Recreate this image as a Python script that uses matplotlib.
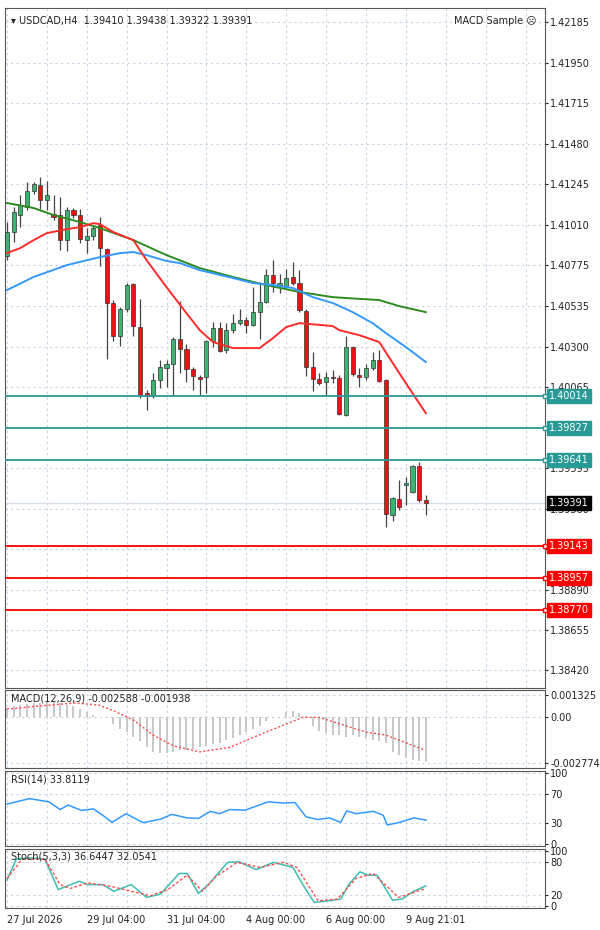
import matplotlib
matplotlib.use("Agg")
import matplotlib.pyplot as plt
import matplotlib.transforms as mtransforms
import numpy as np

# H4 candles, USDCAD
opens = [1.40826, 1.40969, 1.41065, 1.41113, 1.41204, 1.41243, 1.41151, 1.41075, 1.41065, 1.40922,
         1.41098, 1.41065, 1.40922, 1.40945, 1.41008, 1.40868, 1.40557, 1.40362, 1.40519, 1.40664,
         1.40413, 1.40031, 1.40012, 1.40108, 1.40175, 1.40199, 1.40347, 1.40289, 1.40169, 1.40127,
         1.40126, 1.40334, 1.40410, 1.40283, 1.40397, 1.40439, 1.40458, 1.40429, 1.40500, 1.40563,
         1.40716, 1.40661, 1.40649, 1.40707, 1.40670, 1.40509, 1.40184, 1.40112, 1.40098, 1.40127,
         1.40121, 1.39907, 1.40302, 1.40136, 1.40123, 1.40175, 1.40226, 1.40106, 1.39324, 1.39414,
         1.39496, 1.39458, 1.39607, 1.39410]
highs = [1.41027, 1.41113, 1.41180, 1.41256, 1.41256, 1.41285, 1.41262, 1.41180, 1.41170, 1.41113,
         1.41109, 1.41103, 1.40989, 1.41008, 1.41055, 1.40877, 1.40572, 1.40534, 1.40671, 1.40671,
         1.40576, 1.40050, 1.40146, 1.40222, 1.40222, 1.40356, 1.40566, 1.40318, 1.40184, 1.40136,
         1.40340, 1.40445, 1.40445, 1.40436, 1.40493, 1.40521, 1.40473, 1.40649, 1.40678, 1.40755,
         1.40802, 1.40726, 1.40755, 1.40793, 1.40745, 1.40518, 1.40270, 1.40146, 1.40155, 1.40165,
         1.40136, 1.40365, 1.40308, 1.40175, 1.40203, 1.40270, 1.40284, 1.40111, 1.39429, 1.39525,
         1.39543, 1.39611, 1.39630, 1.39438]
lows = [1.40807, 1.40912, 1.40998, 1.41094, 1.41189, 1.41103, 1.41094, 1.41036, 1.40865, 1.40855,
        1.41046, 1.40903, 1.40846, 1.40922, 1.40769, 1.40228, 1.40333, 1.40304, 1.40505, 1.40362,
        1.40004, 1.39936, 1.40003, 1.40060, 1.40069, 1.40022, 1.40146, 1.40098, 1.40050, 1.40022,
        1.40034, 1.40301, 1.40273, 1.40264, 1.40378, 1.40426, 1.40378, 1.40424, 1.40344, 1.40554,
        1.40621, 1.40611, 1.40640, 1.40659, 1.40504, 1.40131, 1.40041, 1.40079, 1.40022, 1.40089,
        1.39907, 1.39897, 1.40131, 1.40069, 1.40108, 1.40165, 1.40098, 1.39252, 1.39286, 1.39353,
        1.39381, 1.39449, 1.39401, 1.39322]
closes = [1.40969, 1.41084, 1.41122, 1.41208, 1.41247, 1.41151, 1.41180, 1.41055, 1.40922, 1.41098,
          1.41065, 1.40926, 1.40945, 1.40989, 1.40874, 1.40553, 1.40362, 1.40519, 1.40658, 1.40419,
          1.40022, 1.40016, 1.40108, 1.40184, 1.40199, 1.40347, 1.40289, 1.40169, 1.40131, 1.40115,
          1.40334, 1.40410, 1.40279, 1.40397, 1.40439, 1.40458, 1.40430, 1.40500, 1.40563, 1.40716,
          1.40669, 1.40672, 1.40703, 1.40669, 1.40516, 1.40184, 1.40112, 1.40092, 1.40127, 1.40121,
          1.39911, 1.40298, 1.40140, 1.40123, 1.40175, 1.40226, 1.40104, 1.39328, 1.39420, 1.39368,
          1.39511, 1.39607, 1.39410, 1.39391]

# moving averages (bar index, price)
ma_fast_idx = [0, 2, 4, 6, 9, 11, 13, 14, 16, 19, 21, 24, 27, 29, 31, 34, 38, 40, 42, 44, 49, 50, 53, 56, 59, 61, 63]
ma_fast = [1.40845, 1.40874, 1.40920, 1.40961, 1.40984, 1.40996, 1.41019, 1.41013, 1.40967, 1.40920,
           1.40804, 1.40647, 1.40496, 1.40397, 1.40328, 1.40293, 1.40293, 1.40351, 1.40415, 1.40438,
           1.40421, 1.40397, 1.40368, 1.40328, 1.40148, 1.40031, 1.39915]
ma_mid_idx = [0, 4, 9, 14, 17, 19, 21, 24, 26, 29, 34, 37, 40, 43, 46, 49, 52, 55, 57, 60, 63]
ma_mid = [1.40630, 1.40706, 1.40775, 1.40822, 1.40845, 1.40851, 1.40833, 1.40799, 1.40787, 1.40746,
          1.40700, 1.40671, 1.40659, 1.40642, 1.40589, 1.40555, 1.40502, 1.40438, 1.40380, 1.40299, 1.40212]
ma_slow_idx = [0, 4, 7, 11, 14, 19, 24, 29, 34, 39, 44, 49, 51, 56, 59, 63]
ma_slow = [1.41136, 1.41107, 1.41066, 1.41025, 1.40990, 1.40921, 1.40833, 1.40758, 1.40706, 1.40659,
           1.40619, 1.40589, 1.40584, 1.40572, 1.40537, 1.40502]

teal_levels = [1.40014, 1.39827, 1.39641]
red_levels = [1.39143, 1.38957, 1.38770]
last_price = 1.39391
price_ticks = [1.42185, 1.41950, 1.41715, 1.41480, 1.41245, 1.41010, 1.40775, 1.40535, 1.40300,
               1.40065, 1.39830, 1.39595, 1.39360, 1.39125, 1.38890, 1.38655, 1.38420]

macd_hist = [0.00058, 0.00067, 0.00076, 0.00080, 0.00086, 0.00086, 0.00091, 0.00091, 0.00086, 0.00076,
             0.00067, 0.00048, 0.00030, 0.00011, 0.00002, -0.00007, -0.00045, -0.00073, -0.00091, -0.00119,
             -0.00147, -0.00184, -0.00212, -0.00221, -0.00221, -0.00212, -0.00203, -0.00199, -0.00193, -0.00184,
             -0.00175, -0.00166, -0.00156, -0.00138, -0.00128, -0.00110, -0.00091, -0.00073, -0.00054, -0.00026,
             -0.00007, 0.00002, 0.00030, 0.00035, 0.00024, 0.00006, -0.00054, -0.00082, -0.00100, -0.00110,
             -0.00110, -0.00119, -0.00110, -0.00119, -0.00128, -0.00138, -0.00147, -0.00156, -0.00212, -0.00231,
             -0.00249, -0.00259, -0.00268, -0.00273]
macd_sig_idx = [0, 4.6, 10.3, 13.8, 16, 19, 22, 25, 29, 33.5, 39, 44.5, 47, 51, 54, 57, 60, 62.7]
macd_sig = [0.00048, 0.00067, 0.00086, 0.00073, 0.00039, -0.00017, -0.00110, -0.00175, -0.00212, -0.00184,
            -0.00091, -0.00002, -0.00002, -0.00054, -0.00091, -0.00110, -0.00156, -0.00199]

rsi_idx = [0, 3.4, 6.3, 8.0, 9.2, 11.2, 13.0, 14.4, 15.8, 17.9, 20.5, 23.1, 24.8, 27.1, 28.8, 30.6, 32.0,
           33.5, 35.8, 39.3, 41.6, 43.3, 45.0, 46.8, 48.5, 50.2, 51.1, 52.5, 55.1, 56.6, 57.2, 58.9, 61.2, 63]
rsi = [56.4, 64, 59.5, 48.6, 55, 47.3, 49.5, 40.5, 30.5, 42.7, 30, 35, 41.8, 36.8, 36, 46, 42.7,
       48.6, 47.7, 59.5, 57.7, 58.6, 38.2, 34.5, 36.8, 30.5, 46.8, 42.7, 46, 40.5, 26.8, 30, 36.8, 33.8]

stoch_idx = [0, 1.4, 3.4, 5.7, 7.7, 10.9, 12.1, 14.4, 16.1, 18.7, 21.0, 23.1, 25.9, 27.1, 28.8, 30.3, 33.2,
             34.9, 37.5, 40.1, 43.0, 44.5, 46.2, 48.5, 50.2, 51.4, 53.1, 54.3, 55.7, 58.0, 59.4, 61.2, 63]
stoch_k = [47, 85, 87, 85, 30, 45, 39, 39, 27, 39, 16, 22, 59, 59, 23, 39, 79,
           80, 66, 79, 70, 39, 7, 10, 13, 39, 62, 56, 56, 11, 13, 27, 36.6]
stoch_sig_idx = [0, 2.3, 5.7, 8.0, 9.5, 12.1, 15.6, 18.7, 21.6, 24.2, 27.1, 29.4, 31.4, 34.6, 38.1, 41.6,
                 43.6, 46.8, 49.7, 52.5, 55.1, 58.9, 63]
stoch_d = [50, 85, 85, 39, 32, 42, 36, 27, 19, 30, 56, 27, 53, 79, 70, 79, 70, 10, 13, 50, 59, 16, 32]

date_ticks = [0, 12, 24, 36, 48, 60]
date_labels = ["27 Jul 2026", "29 Jul 04:00", "31 Jul 04:00", "4 Aug 00:00", "6 Aug 00:00", "9 Aug 21:01"]

GRID = "#c5d3e3"
TEAL = "#2a9a96"
plt.rcParams["font.family"] = ["DejaVu Sans"]

fig = plt.figure(figsize=(6, 9.3), dpi=100)
fig.patch.set_facecolor("white")
ax = fig.add_axes([0.0083, 0.2602, 0.8997, 0.7312])
ax_macd = fig.add_axes([0.0083, 0.1742, 0.8997, 0.0839])
ax_rsi = fig.add_axes([0.0083, 0.0903, 0.8997, 0.0806])
ax_sto = fig.add_axes([0.0083, 0.0237, 0.8997, 0.0634])

xmin, xmax = -0.3, 80.9
n = len(opens)
x = np.arange(n)
for a in (ax, ax_macd, ax_rsi, ax_sto):
    a.set_xlim(xmin, xmax)
    a.yaxis.tick_right()
    a.tick_params(axis="y", labelsize=7, length=2, pad=2, colors="#222222")
    a.set_xticks(np.arange(0, 81, 6))
    a.grid(True, color=GRID, linestyle=(0, (2, 3)), linewidth=0.8)
    a.tick_params(axis="x", length=0, labelbottom=False)
    for s in a.spines.values():
        s.set_color("#555555")
        s.set_linewidth(0.8)

# candles
o = np.array(opens); c = np.array(closes)
up = c >= o
ax.vlines(x, lows, highs, color="#444444", linewidth=0.9, zorder=3)
ax.bar(x[up], (c - o)[up], bottom=o[up], width=0.62, color="#3cb371", edgecolor="#333333", linewidth=0.5, zorder=4)
ax.bar(x[~up], (o - c)[~up], bottom=c[~up], width=0.62, color="#ee1111", edgecolor="#333333", linewidth=0.5, zorder=4)

ax.plot(ma_slow_idx, ma_slow, color="#2e8b1f", linewidth=1.4, zorder=5)
ax.plot(ma_mid_idx, ma_mid, color="#3399ff", linewidth=1.4, zorder=5)
ax.plot(ma_fast_idx, ma_fast, color="#ff2a2a", linewidth=1.4, zorder=5)

ax.set_ylim(1.38318, 1.42269)
ax.set_yticks(price_ticks)
ax.set_yticklabels([f"{t:.5f}" for t in price_ticks])

trans = mtransforms.blended_transform_factory(ax.transAxes, ax.transData)
ax.axhline(last_price, color="#d5dde8", linewidth=1.0, zorder=2)
for lv, col in [(v, TEAL) for v in teal_levels] + [(v, "#ff0000") for v in red_levels]:
    ax.axhline(lv, color=col, linewidth=1.3, zorder=6)
    ax.plot([1.0], [lv], marker="s", markersize=3.5, mfc="white", mec=col, transform=trans, clip_on=False, zorder=7)
    ax.text(1.008, lv, f"{lv:.5f}", transform=trans, fontsize=7, color="white", va="center", ha="left",
            bbox=dict(boxstyle="square,pad=0.2", fc=col, ec=col), zorder=8)
ax.text(1.008, last_price, f"{last_price:.5f}", transform=trans, fontsize=7, color="white", va="center",
        ha="left", bbox=dict(boxstyle="square,pad=0.2", fc="black", ec="black"), zorder=8)

ax.text(0.012, 0.988, "▾ USDCAD,H4  1.39410 1.39438 1.39322 1.39391", transform=ax.transAxes,
        fontsize=7, va="top", ha="left", color="#222222")
ax.text(0.985, 0.988, "MACD Sample ☹", transform=ax.transAxes, fontsize=7, va="top", ha="right", color="#222222")

# MACD
ax_macd.bar(x, macd_hist, width=0.3, color="#c8c8c8", zorder=2)
ax_macd.plot(macd_sig_idx, macd_sig, color="#ff4d4d", linestyle=(0, (1.5, 1.5)), linewidth=1.0, zorder=3)
ax_macd.set_ylim(-0.00310, 0.00165)
ax_macd.set_yticks([0.001325, 0.0, -0.002774])
ax_macd.set_yticklabels(["0.001325", "0.00", "-0.002774"])
ax_macd.text(0.012, 0.95, "MACD(12,26,9) -0.002588 -0.001938", transform=ax_macd.transAxes,
             fontsize=7, va="top", ha="left", color="#222222")

# RSI
ax_rsi.plot(rsi_idx, rsi, color="#3399ff", linewidth=1.1)
ax_rsi.set_ylim(-3, 103)
ax_rsi.set_yticks([100, 70, 30, 0])
ax_rsi.text(0.012, 0.95, "RSI(14) 33.8119", transform=ax_rsi.transAxes,
            fontsize=7, va="top", ha="left", color="#222222")

# Stochastic
ax_sto.plot(stoch_idx, stoch_k, color="#3dbdb0", linewidth=1.1)
ax_sto.plot(stoch_sig_idx, stoch_d, color="#ff4d4d", linestyle=(0, (2, 1.5)), linewidth=1.0)
ax_sto.set_ylim(-3, 103)
ax_sto.set_yticks([100, 80, 20, 0])
ax_sto.text(0.012, 0.95, "Stoch(5,3,3) 36.6447 32.0541", transform=ax_sto.transAxes,
            fontsize=7, va="top", ha="left", color="#222222")

for t, lab in zip(date_ticks, date_labels):
    ax_sto.text(t, -0.12, lab, transform=mtransforms.blended_transform_factory(ax_sto.transData, ax_sto.transAxes),
                fontsize=7, va="top", ha="left", color="#222222")

fig.savefig("out.png", dpi=100)
